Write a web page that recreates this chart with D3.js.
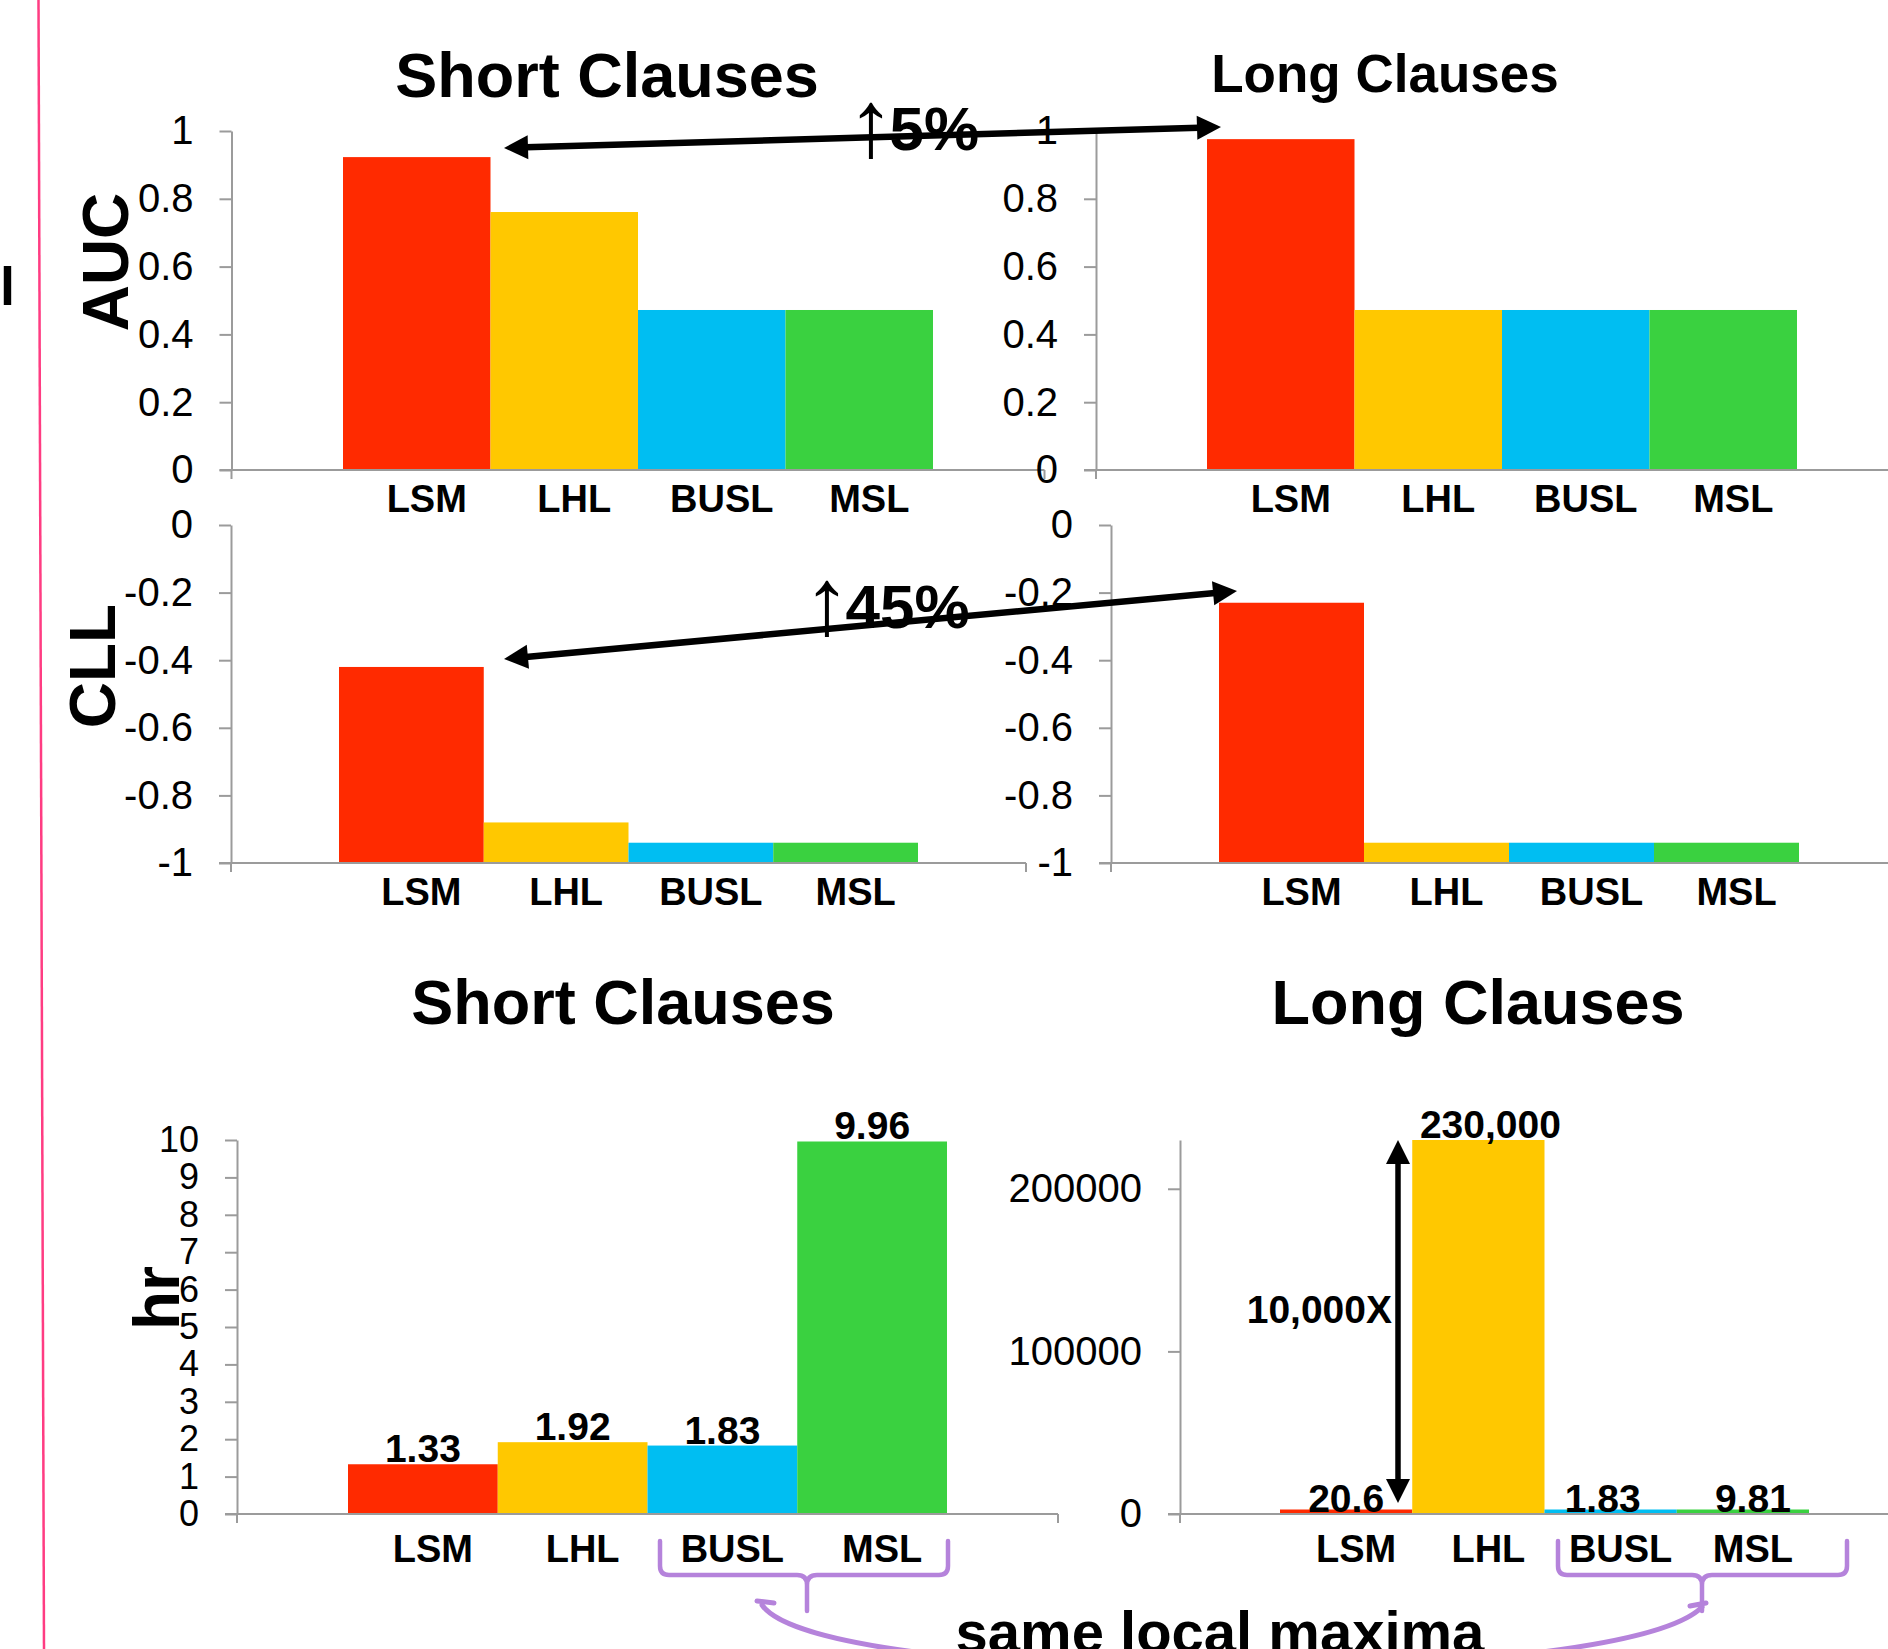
<!DOCTYPE html>
<html>
<head>
<meta charset="utf-8">
<script src="https://cdn.jsdelivr.net/npm/d3@7"></script>
<style>
  html, body { margin: 0; padding: 0; background: #fff; }
  svg { display: block; }
  text { font-family: "Liberation Sans", Arial, Helvetica, sans-serif; fill: #000; }
</style>
</head>
<body>
<svg id="chart" width="1888" height="1649"></svg>
<script>
// ---------------- DATA ----------------
const methods = ["LSM", "LHL", "BUSL", "MSL"];
const methodColors = ["#FF2A00", "#FFC800", "#00BEF2", "#3AD140"];

const aucShort = [0.923, 0.761, 0.472, 0.472];
const aucLong  = [0.976, 0.472, 0.472, 0.472];
const cllShort = [-0.42, -0.88, -0.94, -0.94];
const cllLong  = [-0.23, -0.94, -0.94, -0.94];
const hrShort  = [1.33, 1.92, 1.83, 9.96];
const hrLong   = [20.6, 230000, 1.83, 9.81];

const hrShortLabels = ["1.33", "1.92", "1.83", "9.96"];
const hrLongLabels  = ["20.6", "230,000", "1.83", "9.81"];

const aucTicks     = [0, 0.2, 0.4, 0.6, 0.8, 1];
const cllTicks     = [0, -0.2, -0.4, -0.6, -0.8, -1];
const hrShortTicks = [0, 1, 2, 3, 4, 5, 6, 7, 8, 9, 10];
const hrLongTicks  = [0, 100000, 200000];

const panelTitles = ["Short Clauses", "Long Clauses"];
const metricTitles = ["AUC", "CLL", "hr"];
const gainLabels = ["5%", "45%"];
const ratioLabel = "10,000X";
const braceLabel = "same local maxima";

// ---------------- DRAWING ----------------
const svg = d3.select("#chart");
const AXIS = "#9b9b9b";
const PURPLE = "#B583DB";

function barChart(o) {
  const g = svg.append("g");
  const y = d3.scaleLinear().domain(o.yDomain).range(o.yRange);
  const x = d3.scaleBand().domain(methods).range([o.left + o.inset, o.right - o.inset]).padding(0);
  const base = y(o.yDomain[0]);
  const minH = 4.5;

  // bars
  g.selectAll("rect.bar").data(o.values).enter().append("rect")
    .attr("class", "bar")
    .attr("x", (d, i) => x(methods[i]))
    .attr("width", x.bandwidth())
    .attr("y", d => Math.min(y(d), base - minH))
    .attr("height", d => Math.max(base - y(d), minH))
    .attr("fill", (d, i) => methodColors[i]);

  // y axis
  const ax = g.append("g").attr("transform", `translate(${o.left},0)`)
    .call(d3.axisLeft(y).tickValues(o.ticks).tickSize(12).tickSizeOuter(0)
      .tickPadding(o.tickPad || 26).tickFormat(d => String(d)));
  ax.select(".domain").attr("stroke", AXIS).attr("stroke-width", 2);
  ax.selectAll(".tick line").attr("stroke", AXIS).attr("stroke-width", 2);
  ax.selectAll(".tick text").attr("font-size", o.tickFont || 40)
    .attr("font-family", '"Liberation Sans", Arial, sans-serif').attr("fill", "#000");

  // x axis line with end ticks
  g.append("line").attr("x1", o.left - 12).attr("x2", o.right)
    .attr("y1", base).attr("y2", base).attr("stroke", AXIS).attr("stroke-width", 2);
  [o.left, o.right].forEach(xx => g.append("line").attr("x1", xx).attr("x2", xx)
    .attr("y1", base).attr("y2", base + 9).attr("stroke", AXIS).attr("stroke-width", 2));

  // category labels
  g.selectAll("text.cat").data(methods).enter().append("text")
    .attr("class", "cat")
    .attr("x", d => x(d) + x.bandwidth() / 2 + 10)
    .attr("y", o.catY)
    .attr("text-anchor", "middle")
    .attr("font-size", 38).attr("font-weight", "bold")
    .text(d => d);

  // value labels
  if (o.labels) {
    g.selectAll("text.val").data(o.values).enter().append("text")
      .attr("class", "val")
      .attr("x", (d, i) => x(methods[i]) + x.bandwidth() / 2 + (o.labelDx ? o.labelDx[i] : 0))
      .attr("y", d => y(d) - 2)
      .attr("text-anchor", "middle")
      .attr("font-size", 39).attr("font-weight", "bold")
      .text((d, i) => o.labels[i]);
  }
  return { x, y };
}

// pink margin line and cut-off glyph at the left edge
svg.append("line").attr("x1", 38.5).attr("y1", 0).attr("x2", 44).attr("y2", 1649)
  .attr("stroke", "#FF3C82").attr("stroke-width", 2.5);
svg.append("text").attr("x", 0).attr("y", 305).attr("font-size", 54).attr("font-weight", "bold").text("l");

// AUC row
barChart({ values: aucShort, ticks: aucTicks, yDomain: [0, 1], yRange: [470, 131],
  left: 231.5, right: 1044.5, inset: 111.5, catY: 512 });
barChart({ values: aucLong, ticks: aucTicks, yDomain: [0, 1], yRange: [470, 131],
  left: 1096, right: 1908, inset: 111, catY: 512 });

// CLL row
barChart({ values: cllShort, ticks: cllTicks, yDomain: [-1, 0], yRange: [863, 525],
  left: 231, right: 1026, inset: 108, catY: 905 });
barChart({ values: cllLong, ticks: cllTicks, yDomain: [-1, 0], yRange: [863, 525],
  left: 1111, right: 1907, inset: 108, catY: 905 });

// hr row
barChart({ values: hrShort, ticks: hrShortTicks, yDomain: [0, 10], yRange: [1514, 1140],
  left: 237, right: 1058, inset: 111, catY: 1562, labels: hrShortLabels, tickFont: 36 });
const hrL = barChart({ values: hrLong, ticks: hrLongTicks, yDomain: [0, 230000], yRange: [1514, 1140],
  left: 1180, right: 1909, inset: 100, catY: 1562, labels: hrLongLabels, tickFont: 40,
  labelDx: [0, 12, -8, 10] });

// titles
function title(t, x, y, size) {
  svg.append("text").attr("x", x).attr("y", y).attr("text-anchor", "middle")
    .attr("font-size", size).attr("font-weight", "bold").text(t);
}
title(panelTitles[0], 607, 97, 63);
title(panelTitles[1], 1385, 92, 53);
title(panelTitles[0], 623, 1024, 63);
title(panelTitles[1], 1478, 1024, 63);

// metric axis titles (rotated)
function vtitle(t, x, y) {
  svg.append("text").attr("transform", `translate(${x},${y}) rotate(-90)`)
    .attr("text-anchor", "middle").attr("font-size", 64).attr("font-weight", "bold").text(t);
}
vtitle(metricTitles[0], 128, 262);
vtitle(metricTitles[1], 115, 666);
vtitle(metricTitles[2], 179, 1298);

// arrow helpers
function head(tip, from, len, wid) {
  const dx = tip[0] - from[0], dy = tip[1] - from[1];
  const L = Math.hypot(dx, dy), ux = dx / L, uy = dy / L;
  const bx = tip[0] - ux * len, by = tip[1] - uy * len;
  const px = -uy * wid / 2, py = ux * wid / 2;
  return [[tip[0], tip[1]], [bx + px, by + py], [bx - px, by - py]];
}
function dblArrow(a, b, sw, len, wid) {
  const dx = b[0] - a[0], dy = b[1] - a[1], L = Math.hypot(dx, dy);
  const ux = dx / L, uy = dy / L;
  svg.append("line").attr("x1", a[0] + ux * (len - 2)).attr("y1", a[1] + uy * (len - 2))
    .attr("x2", b[0] - ux * (len - 2)).attr("y2", b[1] - uy * (len - 2))
    .attr("stroke", "#000").attr("stroke-width", sw);
  svg.append("polygon").attr("points", head(a, b, len, wid).join(" ")).attr("fill", "#000");
  svg.append("polygon").attr("points", head(b, a, len, wid).join(" ")).attr("fill", "#000");
}

// gain annotations: a tall thin up-arrow glyph followed by the bold percentage
function gain(t, x, baseline) {
  const tx = svg.append("text").attr("x", x).attr("y", baseline + 6).attr("font-size", 95);
  tx.append("tspan").attr("font-weight", "normal").text("↑");
  tx.append("tspan").attr("font-weight", "bold").attr("font-size", 62)
    .attr("dx", -5).attr("dy", -6).text(t);
}
dblArrow([504, 148], [1221, 127], 6.5, 24, 24);
gain(gainLabels[0], 847, 150);
dblArrow([504, 659], [1237, 591], 6.5, 24, 24);
gain(gainLabels[1], 803, 628);

// 10,000X vertical arrow on the long-clause hr chart
const arrowX = 1398;
dblArrow([arrowX, hrL.y(230000)], [arrowX, hrL.y(0) - 11], 5.5, 24, 24);
svg.append("text").attr("x", 1392).attr("y", 1323).attr("text-anchor", "end")
  .attr("font-size", 39).attr("font-weight", "bold").text(ratioLabel);

// braces
function brace(x0, x1, xc) {
  const t = 1541, b = 1575, r = 9;
  const p = `M${x0},${t} L${x0},${b - r} Q${x0},${b} ${x0 + r},${b} L${xc - 10},${b} Q${xc},${b} ${xc},${b + 10} L${xc},1611
    M${xc},${b + 10} Q${xc},${b} ${xc + 10},${b} L${x1 - r},${b} Q${x1},${b} ${x1},${b - r} L${x1},${t}`;
  svg.append("path").attr("d", p).attr("fill", "none").attr("stroke", PURPLE)
    .attr("stroke-width", 4.5).attr("stroke-linecap", "round").attr("stroke-linejoin", "round");
}
brace(660, 948, 807);
brace(1558, 1847, 1702);

// connecting curve
svg.append("path").attr("d", "M762,1605 C820,1690 1620,1690 1702,1607")
  .attr("fill", "none").attr("stroke", PURPLE).attr("stroke-width", 5).attr("stroke-linecap", "round");
svg.append("path").attr("d", "M757,1601 L774,1603 M1690,1606 L1706,1603")
  .attr("fill", "none").attr("stroke", PURPLE).attr("stroke-width", 5).attr("stroke-linecap", "round");

svg.append("text").attr("x", 1220).attr("y", 1652).attr("text-anchor", "middle")
  .attr("font-size", 58).attr("font-weight", "bold").text(braceLabel);
</script>
</body>
</html>
